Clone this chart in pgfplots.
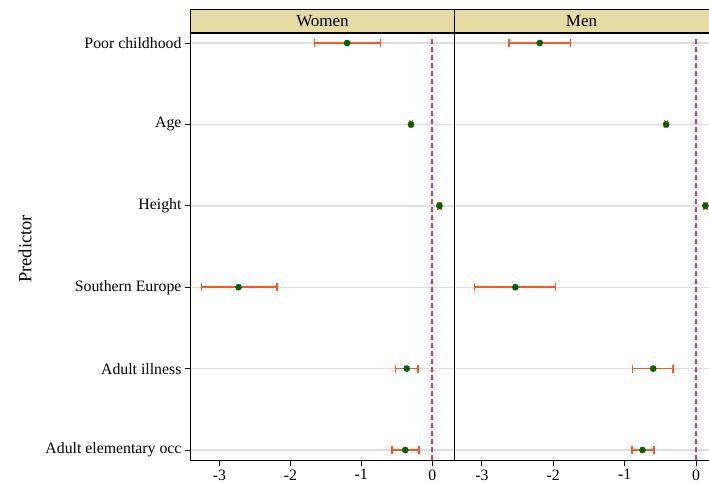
\documentclass[border=0pt]{standalone}
\usepackage{pgfplots}
\pgfplotsset{compat=1.18}
\usepackage{pgfplotstable}
\usepackage{fontspec}
\setmainfont{Liberation Serif}
\definecolor{errc}{RGB}{255,87,34}
\definecolor{ptc}{RGB}{0,100,0}
\definecolor{zeroc}{RGB}{215,60,105}
\definecolor{hdr}{RGB}{230,218,165}
\definecolor{gridc}{RGB}{222,222,222}

% y index: 5 Poor childhood ... 0 Adult elementary occ
\pgfplotstableread{
y  x      em    ep
5  -1.20  0.46  0.47
4  -0.30  0.02  0.02
3   0.10  0.02  0.02
2  -2.73  0.52  0.54
1  -0.36  0.16  0.16
0  -0.38  0.19  0.19
}\women
\pgfplotstableread{
y  x      em    ep
5  -2.19  0.43  0.43
4  -0.42  0.02  0.02
3   0.13  0.02  0.02
2  -2.53  0.57  0.56
1  -0.60  0.29  0.28
0  -0.75  0.15  0.16
}\men

\begin{document}
\begin{tikzpicture}[x=1pt,y=1pt]
\useasboundingbox (-191,-23) rectangle (518,460);
\pgfplotsset{
  panel/.style={
    scale only axis,
    height=427pt,
    ymin=-0.123, ymax=5.123,
    ytick={0,1,2,3,4,5},
    xtick={-3,-2,-1,0},
    tick align=outside,
    major tick length=6pt,
    xtick pos=bottom, ytick pos=left,
    ymajorgrids,
    grid style={draw=gridc, line width=1.4pt},
    axis line style={line width=1pt},
    tick style={black, line width=0.9pt},
    /pgf/number format/assume math mode=true,
    tick label style={font=\fontsize{15.8}{16}\selectfont},
  },
  zeroline/.style={zeroc, line width=2pt, dash pattern=on 5pt off 3pt},
  errplot/.style={
    only marks, mark=*, mark size=3.1pt,
    mark options={fill=ptc, draw=ptc},
    error bars/.cd,
      x dir=both, x explicit,
      error bar style={errc, line width=1.7pt},
      error mark=|,
      error mark options={errc, mark size=4pt, line width=1.5pt},
  },
}
\begin{axis}[panel, at={(0,0)}, anchor=south west, width=263pt,
  xmin=-3.40, xmax=0.306,
  yticklabels={Adult elementary occ, Adult illness, Southern Europe, Height, Age, Poor childhood},
]
  \addplot[zeroline] coordinates {(0,-0.123) (0,5.05)};
  \addplot[errplot] table[x=x, y=y, x error plus=ep, x error minus=em] {\women};
\end{axis}
\begin{axis}[panel, at={(263pt,0)}, anchor=south west, width=258pt,
  xmin=-3.39, xmax=0.223,
  yticklabels={}, ytick style={draw=none},
]
  \addplot[zeroline] coordinates {(0,-0.123) (0,5.05)};
  \addplot[errplot] table[x=x, y=y, x error plus=ep, x error minus=em] {\men};
\end{axis}
% strip headers
\draw[fill=hdr, line width=1pt] (0,427) rectangle (263,450);
\draw[fill=hdr, line width=1pt] (263,427) rectangle (521,450);
\node[font=\fontsize{17}{17}\selectfont] at (131.5,438.5) {Women};
\node[font=\fontsize{17}{17}\selectfont] at (390.5,438.5) {Men};
\node[rotate=90, font=\fontsize{18.5}{19}\selectfont] at (-166,211) {Predictor};
\end{tikzpicture}
\end{document}
